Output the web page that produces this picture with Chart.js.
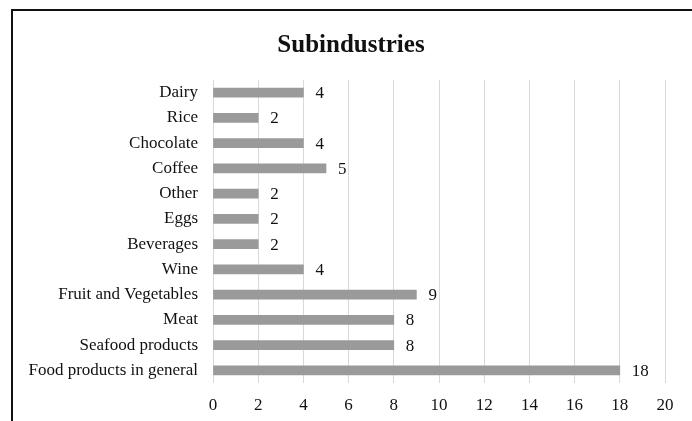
<!DOCTYPE html>
<html>
<head>
<meta charset="utf-8">
<script src="https://cdn.jsdelivr.net/npm/chart.js@4"></script>
<style>
  html, body { margin: 0; padding: 0; background: #fff; }
  #wrap { position: relative; width: 692px; height: 421px; overflow: hidden; }
  #frame { position: absolute; left: 11px; top: 9px; width: 700px; height: 430px;
           border-top: 2px solid #111; border-left: 2px solid #111; box-sizing: border-box; }
  canvas { position: absolute; left: 0; top: 0; }
</style>
</head>
<body>
<div id="wrap">
  <canvas id="c" width="692" height="421"></canvas>
  <div id="frame"></div>
</div>
<script>
const categories = ["Dairy", "Rice", "Chocolate", "Coffee", "Other", "Eggs", "Beverages", "Wine",
  "Fruit and Vegetables", "Meat", "Seafood products", "Food products in general"];
const counts = [4, 2, 4, 5, 2, 2, 2, 4, 9, 8, 8, 18];
const xTicks = [0, 2, 4, 6, 8, 10, 12, 14, 16, 18, 20];
const chartTitle = "Subindustries";

const FONT = "'Liberation Serif', 'Times New Roman', serif";

const valueLabels = {
  id: 'valueLabels',
  afterDatasetsDraw(chart) {
    const ctx = chart.ctx;
    const meta = chart.getDatasetMeta(0);
    ctx.save();
    ctx.font = "17px " + FONT;
    ctx.fillStyle = "#111";
    ctx.textAlign = "left";
    ctx.textBaseline = "middle";
    meta.data.forEach((bar, i) => {
      ctx.fillText(String(counts[i]), bar.x + 12, bar.y + 1);
    });
    ctx.restore();
  }
};

const shiftTitle = {
  id: 'shiftTitle',
  afterLayout(chart) {
    if (chart.titleBlock) { chart.titleBlock.left = 37; }
  }
};

new Chart(document.getElementById('c'), {
  type: 'bar',
  data: {
    labels: categories,
    datasets: [{
      data: counts,
      backgroundColor: '#9a9a9a',
      borderWidth: 0,
      barThickness: 9
    }]
  },
  plugins: [valueLabels, shiftTitle],
  options: {
    indexAxis: 'y',
    responsive: false,
    animation: false,
    layout: { padding: { left: 0, right: 27, top: 0, bottom: 0 } },
    plugins: {
      legend: { display: false },
      tooltip: { enabled: false },
      title: {
        display: true,
        text: chartTitle,
        color: '#111',
        font: { family: FONT, size: 25, weight: 'bold' },
        padding: { top: 31, bottom: 19 }
      }
    },
    scales: {
      x: {
        min: 0, max: 20,
        afterBuildTicks(scale) { scale.ticks = xTicks.map(v => ({ value: v })); },
        afterFit(scale) { scale.height = 38; },
        grid: { color: '#d9d9d9', lineWidth: 1, drawTicks: false },
        border: { display: false },
        ticks: { color: '#111', padding: 12, font: { family: FONT, size: 17 } }
      },
      y: {
        afterFit(scale) { scale.width = 213; },
        grid: { display: false, drawTicks: false },
        border: { display: false },
        ticks: { color: '#111', padding: 15, font: { family: FONT, size: 17 } }
      }
    }
  }
});
</script>
</body>
</html>
